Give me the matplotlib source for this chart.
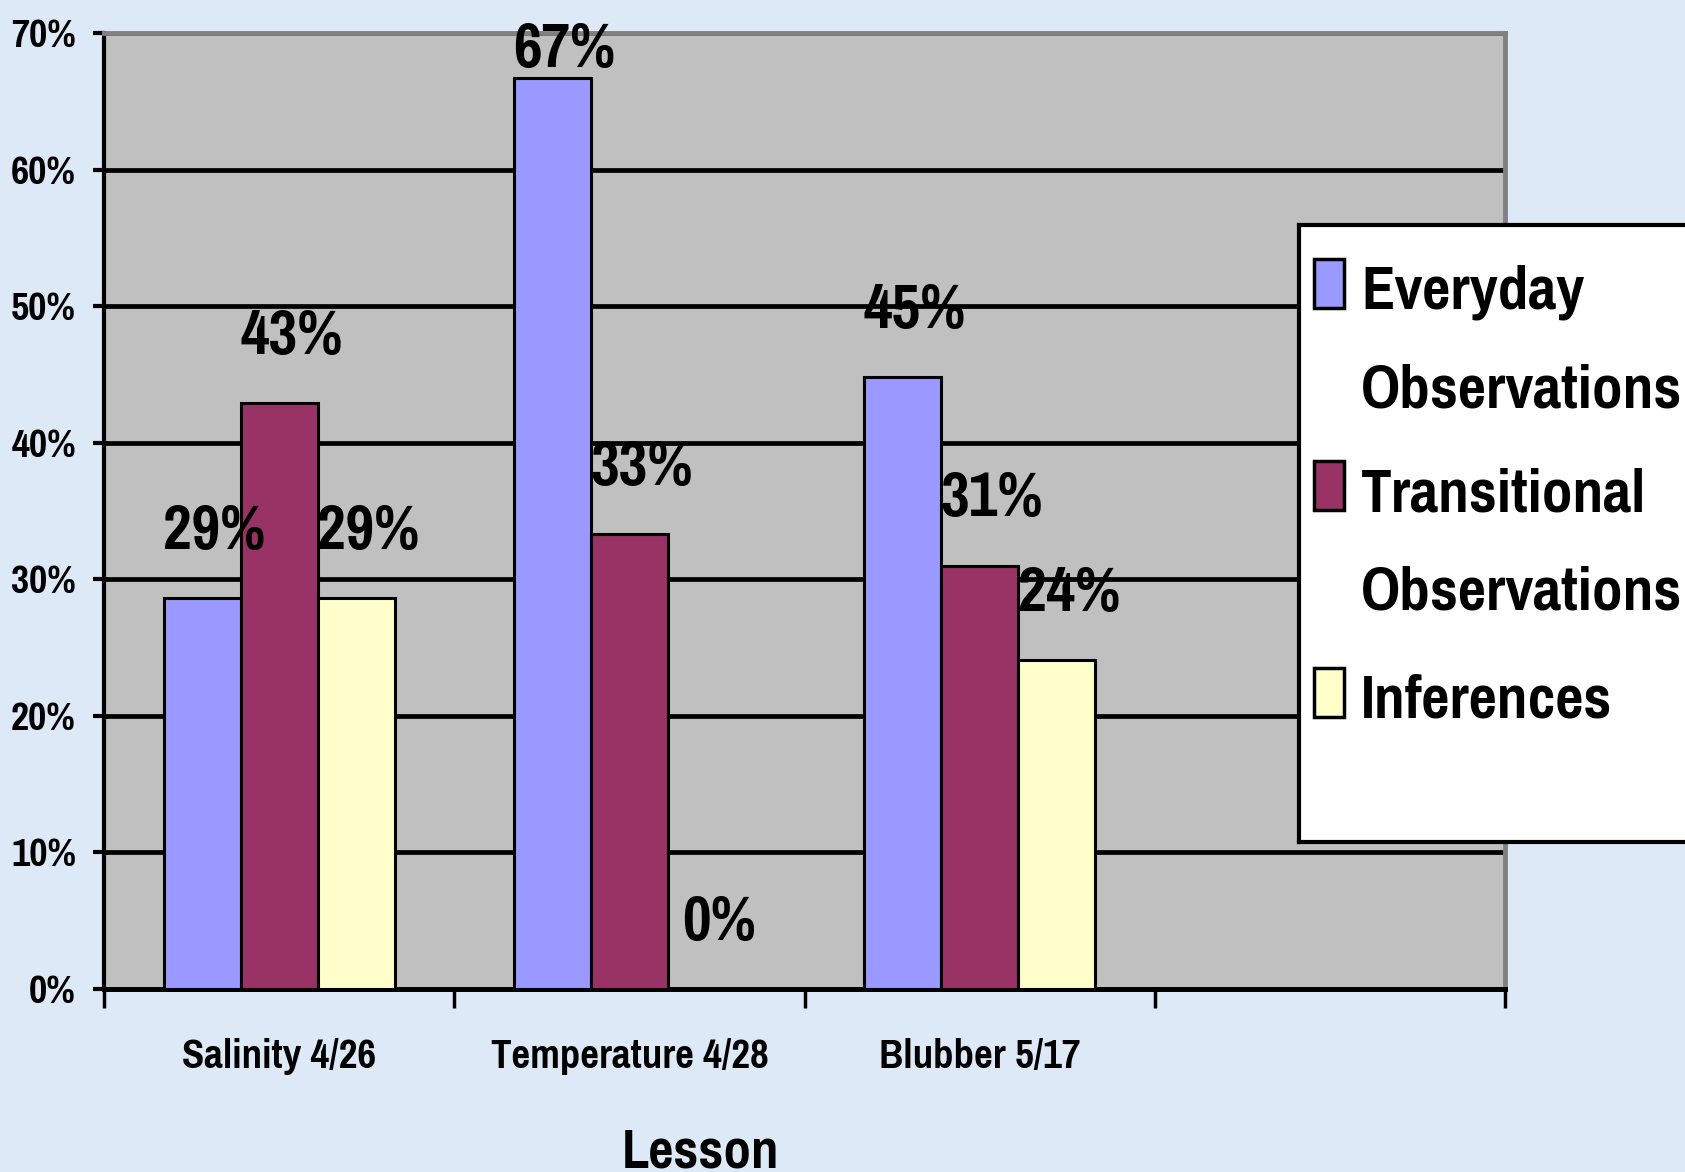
import matplotlib.pyplot as plt
import numpy as np
from matplotlib.patches import Rectangle

# lessons and share of each observation type
lessons = ["Salinity 4/26", "Temperature 4/28", "Blubber 5/17", ""]
everyday = [0.286, 0.667, 0.448, np.nan]
transitional = [0.429, 0.333, 0.310, np.nan]
inferences = [0.286, 0.0, 0.241, np.nan]
series_names = ["Everyday\nObservations", "Transitional\nObservations", "Inferences"]
colors = ["#9999FF", "#993366", "#FFFFCC"]
yticks = [0, 0.1, 0.2, 0.3, 0.4, 0.5, 0.6, 0.7]

plt.rcParams["font.family"] = ["Pragati Narrow", "DejaVu Sans"]
plt.rcParams["font.weight"] = "bold"

W, H = 1685, 1172
fig = plt.figure(figsize=(W / 100, H / 100), dpi=100)
fig.patch.set_facecolor("#dde9f6")
ax = fig.add_axes([104 / W, (H - 989) / H, 1401 / W, 956 / H])
ax.set_facecolor("#C0C0C0")

x = np.arange(len(lessons))
w = 0.22
all_series = [everyday, transitional, inferences]
for i, (vals, c) in enumerate(zip(all_series, colors)):
    pos = x + (i - 1) * w
    ax.bar(pos, vals, w, color=c, edgecolor="black", linewidth=2.2, zorder=3)
    for px, v in zip(pos, vals):
        if np.isnan(v):
            continue
        ty = min(v + 0.036, 0.675)
        ax.annotate(f"{v*100:.0f}%", (px, ty), xytext=(9, 0), textcoords="offset points",
                    ha="center", va="baseline", fontsize=49, fontweight="bold", zorder=5)

ax.set_xlim(-0.5, len(lessons) - 0.5)
ax.set_ylim(0, 0.7)
ax.set_yticks(yticks)
ax.set_yticklabels([f"{t*100:.0f}%" for t in yticks], fontsize=31, fontweight="bold")
ax.yaxis.grid(True, color="black", linewidth=3.4, zorder=1)
ax.set_axisbelow(True)

# group boundaries get the tick marks, names sit in between
ax.set_xticks(np.arange(len(lessons) + 1) - 0.5)
ax.set_xticklabels([])
ax.set_xticks(x, minor=True)
ax.set_xticklabels(lessons, minor=True, fontsize=32, fontweight="bold")
ax.tick_params(axis="x", which="major", length=14, width=2.5, direction="out")
ax.tick_params(axis="x", which="minor", length=0, pad=35)
ax.tick_params(axis="y", length=8, width=3, pad=12)

for s in ["top", "right"]:
    ax.spines[s].set_color("#808080")
    ax.spines[s].set_linewidth(3.5)
ax.spines["left"].set_linewidth(3)
ax.spines["bottom"].set_linewidth(3.6)

fig.text(700 / W, 4 / H, "Lesson", ha="center", va="baseline", fontsize=43, fontweight="bold")

# legend panel on the right, running off the edge
lax = fig.add_axes([1299 / W, (H - 842) / H, 420 / W, (842 - 225) / H])
lax.set_xlim(1299, 1719)
lax.set_ylim(842, 225)
lax.set_xticks([])
lax.set_yticks([])
lax.set_facecolor("white")
for s in lax.spines.values():
    s.set_linewidth(3)
first_baselines = [309, 511, 718]
for name, c, by in zip(series_names, colors, first_baselines):
    lax.add_patch(Rectangle((1314, by - 50), 30, 49, facecolor=c, edgecolor="black", linewidth=2.5))
    for k, line in enumerate(name.split("\n")):
        lax.text(1361, by + k * 98, line, ha="left", va="baseline", fontsize=48, fontweight="bold")

fig.savefig("out.png", dpi=100, facecolor=fig.get_facecolor())
